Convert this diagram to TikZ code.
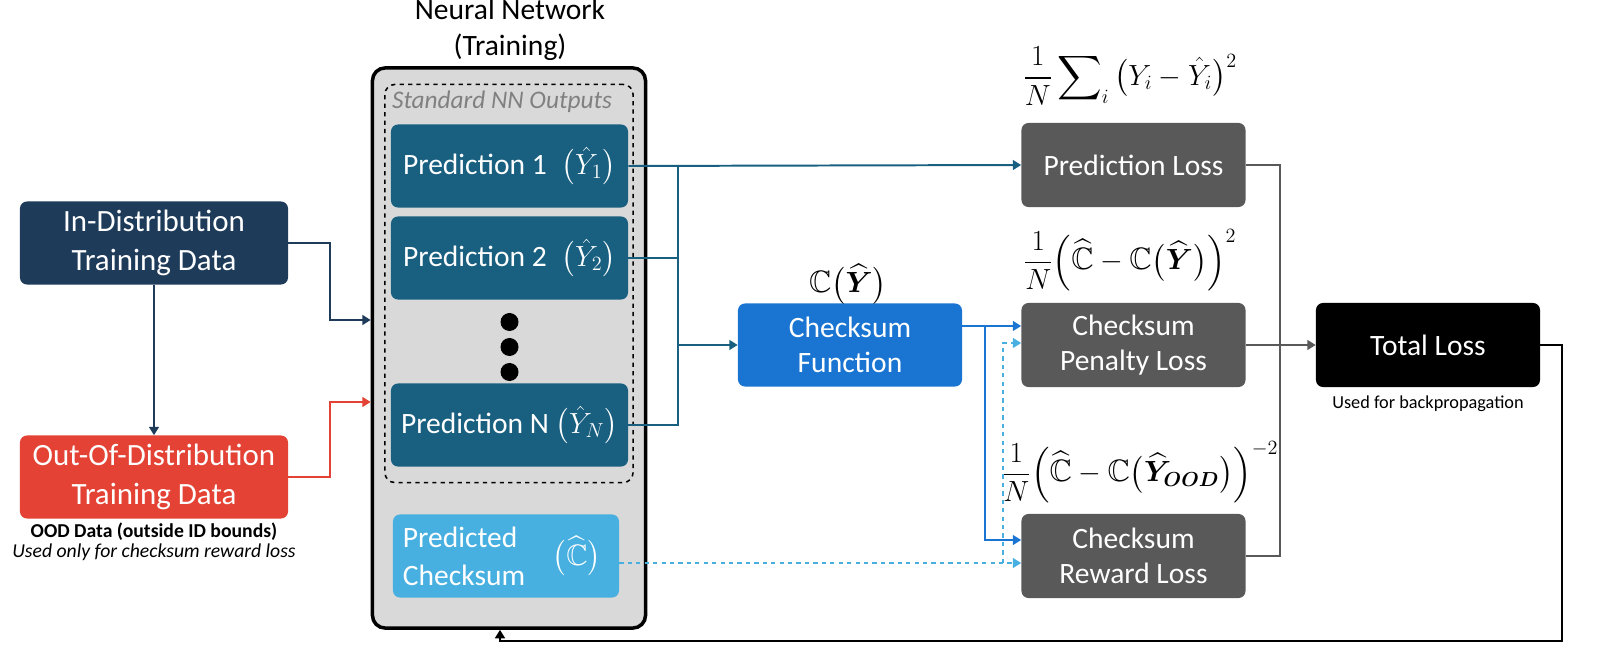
\documentclass[tikz,border=0pt]{standalone}
\usepackage{amsmath,amssymb,bm}
\usepackage{fontspec}
\setmainfont{Carlito}
\usetikzlibrary{arrows.meta}
\definecolor{navy}{HTML}{1F3B5A}
\definecolor{oodred}{HTML}{E34234}
\definecolor{predblue}{HTML}{185F80}
\definecolor{lightblue}{HTML}{47B0E0}
\definecolor{csblue}{HTML}{1A75D2}
\definecolor{lossgray}{HTML}{595959}
\definecolor{nnbg}{HTML}{D9D9D9}
\begin{document}
\begin{tikzpicture}[x=0.025cm,y=-0.025cm,
  box/.style={rounded corners=5pt,text=white,align=center,inner sep=0pt,font=\fontsize{21}{25}\selectfont},
  lossbox/.style={box,fill=lossgray,minimum width=5.6cm,minimum height=2.1cm},
  predbox/.style={box,fill=predblue,minimum width=5.925cm,minimum height=2.075cm},
  datbox/.style={box,minimum width=6.7cm,minimum height=2.075cm,font=\fontsize{22}{28}\selectfont},
  formula/.style={font=\fontsize{22}{26}\selectfont},
  conn/.style={line width=1.4pt,-{Triangle[length=6pt,width=7pt]}},
  plain/.style={line width=1.4pt}]
\useasboundingbox (0,0) rectangle (1600,662);
% NN
\node[font=\fontsize{21}{26}\selectfont,align=center] (title) at (510,30) {Neural Network\\(Training)};
\node[draw=black,line width=2.5pt,fill=nnbg,rounded corners=9pt,minimum width=6.825cm,minimum height=14cm,inner sep=0pt] (nn) at (509,348) {};
\node[draw=black,dashed,line width=1.1pt,rounded corners=7pt,minimum width=6.2cm,minimum height=9.95cm,inner sep=0pt] (std) at (509,283.5) {};
\node[font=\itshape\fontsize{18}{21}\selectfont,text=gray] (stdl) at (502,102) {Standard NN Outputs};
\node[predbox] (p1) at (509.5,166) {Prediction 1\enspace$\big(\hat{Y}_1\big)$};
\node[predbox] (p2) at (509.5,258) {Prediction 2\enspace$\big(\hat{Y}_2\big)$};
\node[predbox] (pn) at (509.5,425) {Prediction N $\big(\hat{Y}_N\big)$};
\foreach \yy/\nm in {322/d1,347/d2,372/d3} \node[circle,fill=black,minimum size=0.45cm,inner sep=0pt] (\nm) at (509.5,\yy) {};
\node[box,fill=lightblue,minimum width=5.65cm,minimum height=2.075cm] (pc) at (506,556) {};
\node[text=white,align=left,anchor=west,font=\fontsize{21}{27}\selectfont] (pct) at (398,556) {Predicted\\Checksum};
\node[text=white,font=\fontsize{21}{25}\selectfont] (pcc) at (577,556) {$\big(\widehat{\mathbb{C}}\big)$};
% data
\node[datbox,fill=navy] (id) at (154,243) {In-Distribution\\Training Data};
\node[datbox,fill=oodred] (ood) at (154,477) {Out-Of-Distribution\\Training Data};
\node[font=\bfseries\fontsize{14}{17}\selectfont] (oodn1) at (154,532) {OOD Data (outside ID bounds)};
\node[font=\itshape\fontsize{14}{17}\selectfont] (oodn2) at (154,552) {Used only for checksum reward loss};
% right side
\node[box,fill=csblue,minimum width=5.6cm,minimum height=2.075cm] (cf) at (850,345) {Checksum\\Function};
\node[formula] (cfl) at (848,284) {$\mathbb{C}\big(\widehat{\bm{Y}}\big)$};
\node[lossbox] (pl) at (1133.5,165) {Prediction Loss};
\node[lossbox] (cp) at (1133.5,345) {Checksum\\Penalty Loss};
\node[lossbox] (cr) at (1133.5,556) {Checksum\\Reward Loss};
\node[box,fill=black,minimum width=5.6cm,minimum height=2.1cm] (tl) at (1428,345) {Total Loss};
\node[font=\fontsize{13}{16}\selectfont] (tln) at (1428,404) {Used for backpropagation};
\node[formula,inner sep=0pt] (plf) at (1130,76) {$\dfrac{1}{N}\displaystyle\sum\nolimits_i\big(Y_i-\hat{Y}_i\big)^2$};
\node[formula,inner sep=0pt] (cpf) at (1130,260) {$\dfrac{1}{N}\Big(\widehat{\mathbb{C}}-\mathbb{C}\big(\widehat{\bm{Y}}\big)\Big)^2$};
\node[formula,inner sep=0pt] (crf) at (1140,472) {$\dfrac{1}{N}\Big(\widehat{\mathbb{C}}-\mathbb{C}\big(\widehat{\bm{Y}}_{\bm{OOD}}\big)\Big)^{-2}$};
% coordinates
\coordinate (bus1) at (678,166);
\coordinate (busc) at (678,345);
% data connectors
\draw[conn,navy] (id.south) -- (ood.north);
\draw[conn,navy] (id.east) -| (330,320) -- (nn.west |- 0,320);
\draw[conn,oodred] (ood.east) -| (330,402) -- (nn.west |- 0,402);
% prediction bus
\draw[conn,predblue] (p1.east) -- (pl.west);
\draw[plain,predblue] (p2.east) -| (bus1);
\draw[plain,predblue] (pn.east) -| (bus1);
\draw[conn,predblue] (busc) -- (cf.west);
% checksum function
\draw[conn,csblue] (cf.east |- 0,326) -- (cp.west |- 0,326);
\draw[conn,csblue] (985,326) |- (cr.west |- 0,540);
\draw[conn,lightblue,dashed] (pc.east |- 0,563) -- (cr.west |- 0,563);
\draw[conn,lightblue,dashed] (1003,563) |- (cp.west |- 0,343);
% losses
\draw[plain,lossgray] (pl.east) -| (1280,556) -- (cr.east);
\draw[conn,lossgray] (cp.east) -- (tl.west);
% feedback
\draw[conn,black] (tl.east) -| (1562,641) -| (nn.south -| 500,0);
\end{tikzpicture}
\end{document}
